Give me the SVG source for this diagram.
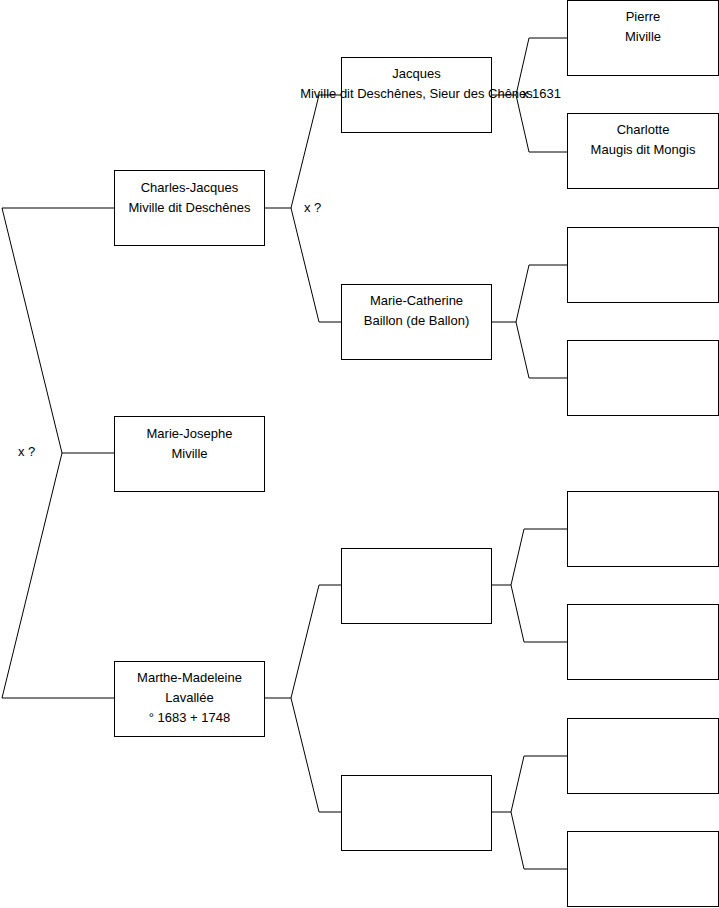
<svg xmlns="http://www.w3.org/2000/svg" width="719" height="908" viewBox="0 0 719 908">
<style>
.box{fill:#fff;stroke:#000;stroke-width:1}
.c{fill:none;stroke:#000;stroke-width:1}
text{font-family:"Liberation Sans",Arial,sans-serif;font-size:13px;fill:#000}
.m{text-anchor:middle}
</style>
<rect width="719" height="908" fill="#fff"/>
<g id="connectors">
<polyline class="c" points="114,453 62,453 2,208 114,208"/>
<polyline class="c" points="62,453 2,698 114,698"/>
<polyline class="c" points="265,208 291,208 319,95 341,95"/>
<polyline class="c" points="291,208 319,322 341,322"/>
<polyline class="c" points="265,698 291,698 319,585 341,585"/>
<polyline class="c" points="291,698 319,812 341,812"/>
<polyline class="c" points="491,95 516,95 529,38 567,38"/>
<polyline class="c" points="516,95 529,152 567,152"/>
<polyline class="c" points="491,322 516,322 529,265 567,265"/>
<polyline class="c" points="516,322 529,378 567,378"/>
<polyline class="c" points="491,585 511,585 524,529 567,529"/>
<polyline class="c" points="511,585 524,642 567,642"/>
<polyline class="c" points="491,812 511,812 524,756 567,756"/>
<polyline class="c" points="511,812 524,869 567,869"/>
<text x="18" y="456">x ?</text>
<text x="304" y="212">x ?</text>
</g>
<g id="n-marie-josephe"><rect class="box" x="114.5" y="416.5" width="150" height="75"/><text class="m" x="189.5" y="438">Marie-Josephe</text><text class="m" x="189.5" y="458">Miville</text></g>
<g id="n-charles-jacques"><rect class="box" x="114.5" y="170.5" width="150" height="75"/><text class="m" x="189.5" y="192">Charles-Jacques</text><text class="m" x="189.5" y="212">Miville dit Deschênes</text></g>
<g id="n-marthe-madeleine"><rect class="box" x="114.5" y="661.5" width="150" height="75"/><text class="m" x="189.5" y="682">Marthe-Madeleine</text><text class="m" x="189.5" y="702">Lavallée</text><text class="m" x="189.5" y="722">° 1683 + 1748</text></g>
<g id="n-jacques"><rect class="box" x="341.5" y="57.5" width="150" height="75"/><text class="m" x="416.5" y="78">Jacques</text><text class="m" x="416.5" y="98">Miville dit Deschênes, Sieur des Chênes</text></g>
<g id="n-marie-catherine"><rect class="box" x="341.5" y="284.5" width="150" height="75"/><text class="m" x="416.5" y="305">Marie-Catherine</text><text class="m" x="416.5" y="325">Baillon (de Ballon)</text></g>
<g id="n-empty1"><rect class="box" x="341.5" y="548.5" width="150" height="75"/></g>
<g id="n-empty2"><rect class="box" x="341.5" y="775.5" width="150" height="75"/></g>
<g id="n-pierre"><rect class="box" x="567.5" y="0.5" width="151" height="75"/><text class="m" x="643" y="21">Pierre</text><text class="m" x="643" y="41">Miville</text></g>
<g id="n-charlotte"><rect class="box" x="567.5" y="113.5" width="151" height="75"/><text class="m" x="643" y="134">Charlotte</text><text class="m" x="643" y="154">Maugis dit Mongis</text></g>
<g id="n-empty3"><rect class="box" x="567.5" y="227.5" width="151" height="75"/></g>
<g id="n-empty4"><rect class="box" x="567.5" y="340.5" width="151" height="75"/></g>
<g id="n-empty5"><rect class="box" x="567.5" y="491.5" width="151" height="75"/></g>
<g id="n-empty6"><rect class="box" x="567.5" y="604.5" width="151" height="75"/></g>
<g id="n-empty7"><rect class="box" x="567.5" y="718.5" width="151" height="75"/></g>
<g id="n-empty8"><rect class="box" x="567.5" y="831.5" width="151" height="75"/></g>
<g id="labels"><text x="522" y="98">x 1631</text></g>
</svg>
